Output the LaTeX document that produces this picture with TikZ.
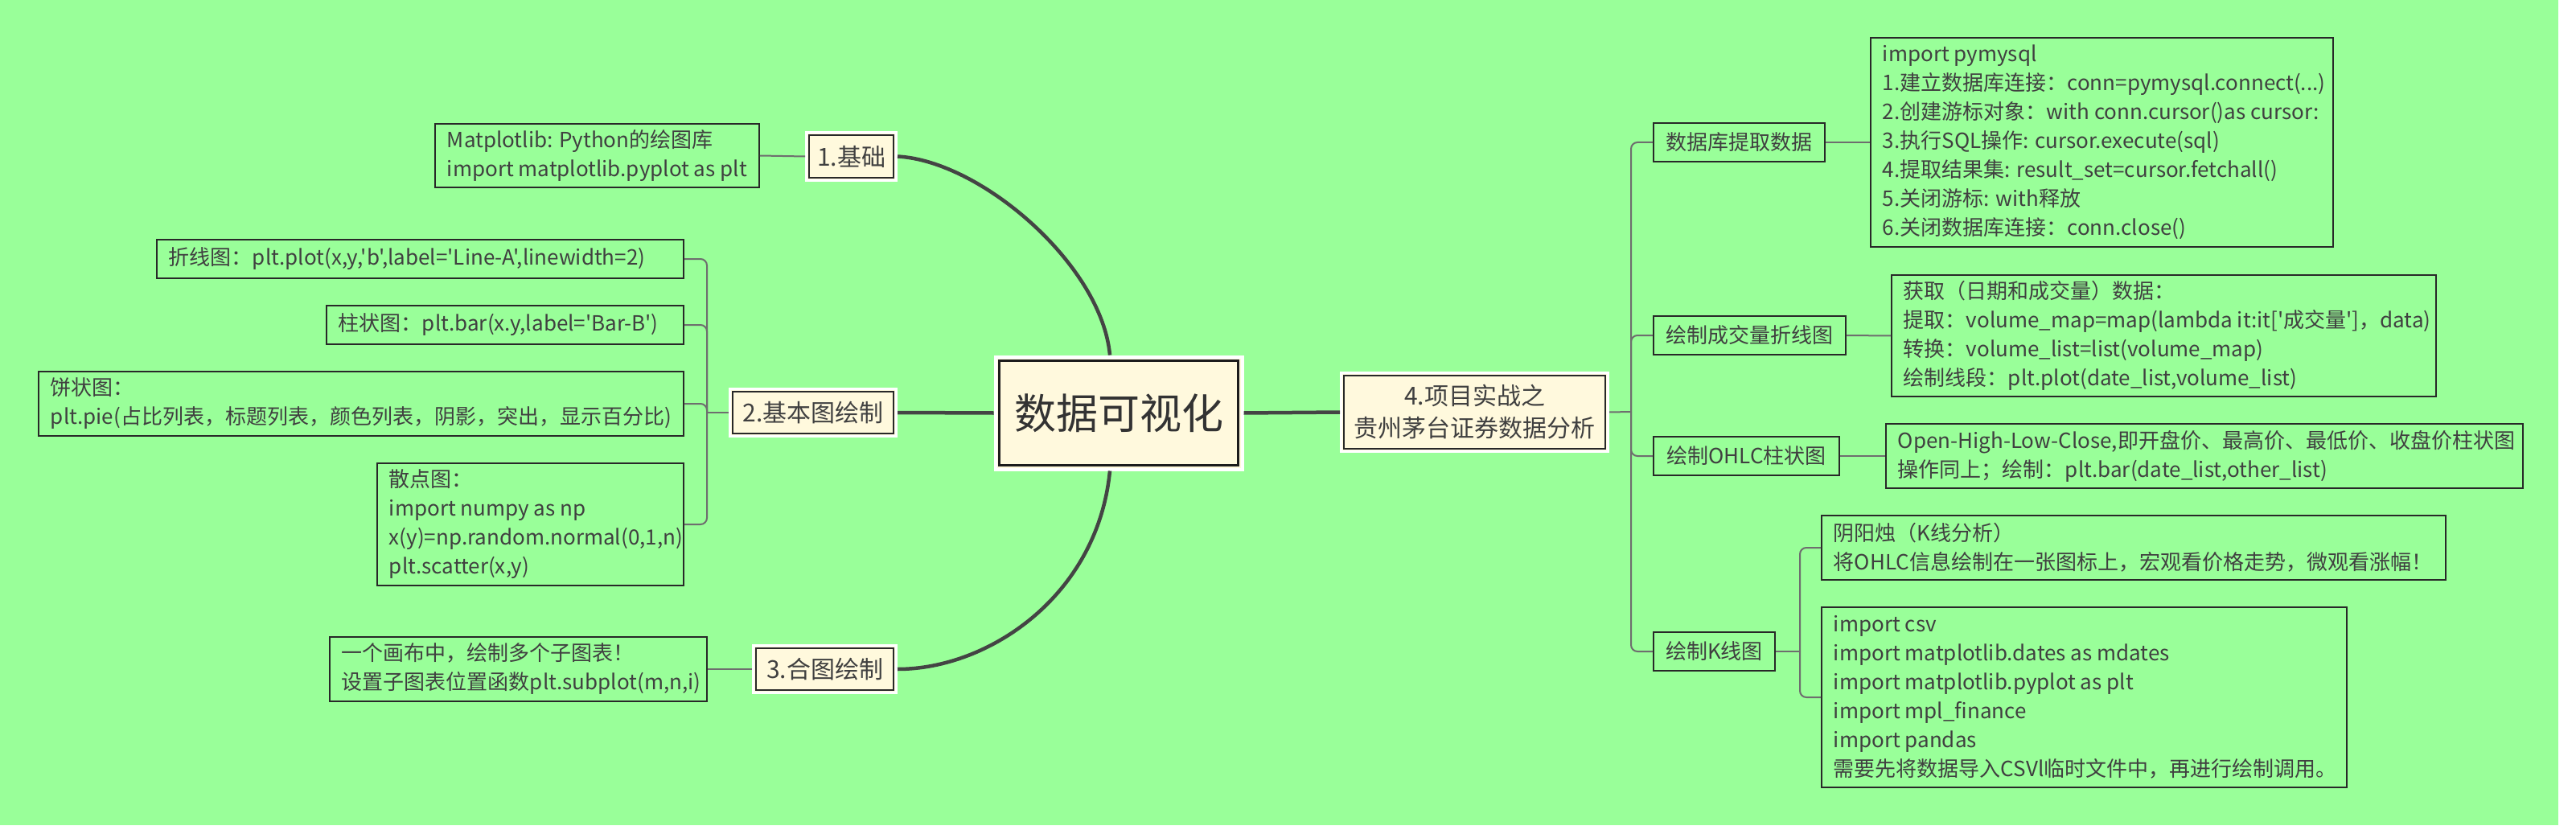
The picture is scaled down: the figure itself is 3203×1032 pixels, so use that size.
\documentclass[tikz,border=0pt]{standalone}
\font\subf="Noto Sans CJK SC" at 26pt
\font\mainf="Noto Sans CJK SC" at 30pt
\font\cenf="Noto Sans CJK SC" at 52pt
\definecolor{bggreen}{RGB}{153,255,153}
\definecolor{cream}{RGB}{255,249,221}
\definecolor{txtc}{RGB}{64,64,64}
\definecolor{bordc}{RGB}{40,40,40}
\definecolor{linec}{RGB}{110,110,110}
\definecolor{thickc}{RGB}{68,68,68}
\begin{document}
\begin{tikzpicture}[x=1pt,y=-1pt,
  subbox/.style={draw=bordc,line width=1.6pt,inner sep=0pt},
  subtext/.style={font={\subf\baselineskip=36pt\relax},text=txtc,align=left,inner sep=0pt,anchor=west},
  lblbox/.style={draw=bordc,line width=1.6pt,inner sep=0pt,font=\subf,text=txtc},
  mainbox/.style={fill=cream,draw=white,line width=3pt,inner sep=0pt,text=txtc,
    font={\mainf\baselineskip=40pt\relax},align=center,
    path picture={\draw[bordc,line width=1.4pt] ([shift={(3.5pt,-3.5pt)}]path picture bounding box.north west) rectangle ([shift={(-3.5pt,3.5pt)}]path picture bounding box.south east);}},
  cenbox/.style={fill=cream,draw=white,line width=4pt,inner sep=0pt,text=txtc!80!black,font=\cenf,
    path picture={\draw[bordc!70!black,line width=3.2pt] ([shift={(5pt,-5pt)}]path picture bounding box.north west) rectangle ([shift={(-5pt,5pt)}]path picture bounding box.south east);}},
  thinlink/.style={draw=linec,line width=2pt},
  thicklink/.style={draw=thickc,line width=4.5pt},
]
\useasboundingbox (0,0) rectangle (3203,1032);
\fill[white] (0,0) rectangle (3203,1032);
\fill[bggreen] (0,0) rectangle (3181,1026);

% ---------- central ----------
\node[cenbox,minimum width=307pt,minimum height=140pt] (c) at (1391,513.5) {数据可视化};

% ---------- main branches ----------
\node[mainbox,minimum width=112pt,minimum height=60pt] (b1) at (1058.5,194.5) {1.基础};
\node[mainbox,minimum width=207pt,minimum height=59pt] (b2) at (1011,513) {2.基本图绘制};
\node[mainbox,minimum width=178pt,minimum height=59pt] (b3) at (1025.5,832) {3.合图绘制};
\node[mainbox,minimum width=332pt,minimum height=98pt] (b4) at (1833.5,512.5) {4.项目实战之\\贵州茅台证券数据分析};

% ---------- left leaves ----------
\node[subbox,minimum width=403pt,minimum height=79pt] (m1) at (742.5,193.5) {};
\node[subtext] (m1t) at ([xshift=15.5pt]m1.west) {Matplotlib: Python的绘图库\\import matplotlib.pyplot as plt};

\node[subbox,minimum width=655pt,minimum height=48pt] (l1) at (522.5,322) {};
\node[subtext] (l1t) at ([xshift=15.5pt]l1.west) {折线图：plt.plot(x,y,'b',label='Line-A',linewidth=2)};

\node[subbox,minimum width=444pt,minimum height=48pt] (l2) at (628,404) {};
\node[subtext] (l2t) at ([xshift=15.5pt]l2.west) {柱状图：plt.bar(x.y,label='Bar-B')};

\node[subbox,minimum width=802pt,minimum height=80pt] (l3) at (449,502) {};
\node[subtext] (l3t) at ([xshift=15.5pt]l3.west) {饼状图：\\plt.pie(占比列表，标题列表，颜色列表，阴影，突出，显示百分比)};

\node[subbox,minimum width=381pt,minimum height=152pt] (l4) at (659.5,652) {};
\node[subtext] (l4t) at ([xshift=15.5pt]l4.west) {散点图：\\import numpy as np\\x(y)=np.random.normal(0,1,n)\\plt.scatter(x,y)};

\node[subbox,minimum width=469pt,minimum height=80pt] (l5) at (644.5,832) {};
\node[subtext] (l5t) at ([xshift=15.5pt]l5.west) {一个画布中，绘制多个子图表！\\设置子图表位置函数plt.subplot(m,n,i)};

% ---------- right labels ----------
\node[lblbox,minimum width=213pt,minimum height=48pt] (r1) at (2162.5,177) {数据库提取数据};
\node[lblbox,minimum width=239pt,minimum height=48pt] (r2) at (2175.5,417) {绘制成交量折线图};
\node[lblbox,minimum width=231pt,minimum height=48pt] (r3) at (2171.5,567) {绘制OHLC柱状图};
\node[lblbox,minimum width=151pt,minimum height=48pt] (r4) at (2131.5,810) {绘制K线图};

% ---------- right leaves ----------
\node[subbox,minimum width=575pt,minimum height=260pt] (t1) at (2613.5,177) {};
\node[subtext] (t1t) at ([xshift=15.5pt]t1.west) {import pymysql\\1.建立数据库连接：conn=pymysql.connect(...)\\2.创建游标对象：with conn.cursor()as cursor:\\3.执行SQL操作: cursor.execute(sql)\\4.提取结果集: result\_set=cursor.fetchall()\\5.关闭游标: with释放\\6.关闭数据库连接：conn.close()};

\node[subbox,minimum width=677pt,minimum height=151pt] (t2) at (2690.5,417.5) {};
\node[subtext] (t2t) at ([xshift=15.5pt]t2.west) {获取（日期和成交量）数据：\\提取：volume\_map=map(lambda it:it['成交量']，data)\\转换：volume\_list=list(volume\_map)\\绘制线段：plt.plot(date\_list,volume\_list)};

\node[subbox,minimum width=792pt,minimum height=80pt] (t3) at (2741,567) {};
\node[subtext] (t3t) at ([xshift=15.5pt]t3.west) {Open-High-Low-Close,即开盘价、最高价、最低价、收盘价柱状图\\操作同上；绘制：plt.bar(date\_list,other\_list)};

\node[subbox,minimum width=776pt,minimum height=80pt] (t4) at (2653,681) {};
\node[subtext] (t4t) at ([xshift=15.5pt]t4.west) {阴阳烛（K线分析）\\将OHLC信息绘制在一张图标上，宏观看价格走势，微观看涨幅！};

\node[subbox,minimum width=653pt,minimum height=224pt] (t5) at (2591.5,867) {};
\node[subtext] (t5t) at ([xshift=15.5pt]t5.west) {import csv\\import matplotlib.dates as mdates\\import matplotlib.pyplot as plt\\import mpl\_finance\\import pandas\\需要先将数据导入CSVl临时文件中，再进行绘制调用。};

% ---------- junction points ----------
\coordinate (lb) at (879,513);
\coordinate (rb) at (2028,512);
\coordinate (kb) at (2238,810);

% ---------- thick connectors ----------
\draw[thicklink] (b1.east) .. controls (1220,200) and (1370,330) .. ([xshift=-11pt]c.north);
\draw[thicklink] (b2.east) -- (c.west);
\draw[thicklink] ([xshift=-11pt]c.south) .. controls (1365,740) and (1230,832) .. (b3.east);
\draw[thicklink] (c.east) -- (b4.west);

% ---------- thin connectors ----------
\draw[thinlink] (m1.east) -- (b1.west);
\draw[thinlink] (b2.west) -- (lb);
\draw[thinlink,rounded corners=8pt] (lb) |- (l1.east);
\draw[thinlink,rounded corners=8pt] (lb) |- (l2.east);
\draw[thinlink,rounded corners=8pt] (lb) |- (l3.east);
\draw[thinlink,rounded corners=8pt] (lb) |- (l4.east);
\draw[thinlink] (l5.east) -- (b3.west);

\draw[thinlink] (b4.east) -- (rb);
\draw[thinlink,rounded corners=8pt] (rb) |- (r1.west);
\draw[thinlink,rounded corners=8pt] (rb) |- (r2.west);
\draw[thinlink,rounded corners=8pt] (rb) |- (r3.west);
\draw[thinlink,rounded corners=8pt] (rb) |- (r4.west);
\draw[thinlink] (r1.east) -- (t1.west);
\draw[thinlink] (r2.east) -- (t2.west);
\draw[thinlink] (r3.east) -- (t3.west);
\draw[thinlink] (r4.east) -- (kb);
\draw[thinlink,rounded corners=8pt] (kb) |- (t4.west);
\draw[thinlink,rounded corners=8pt] (kb) |- (t5.west);
\end{tikzpicture}
\end{document}
